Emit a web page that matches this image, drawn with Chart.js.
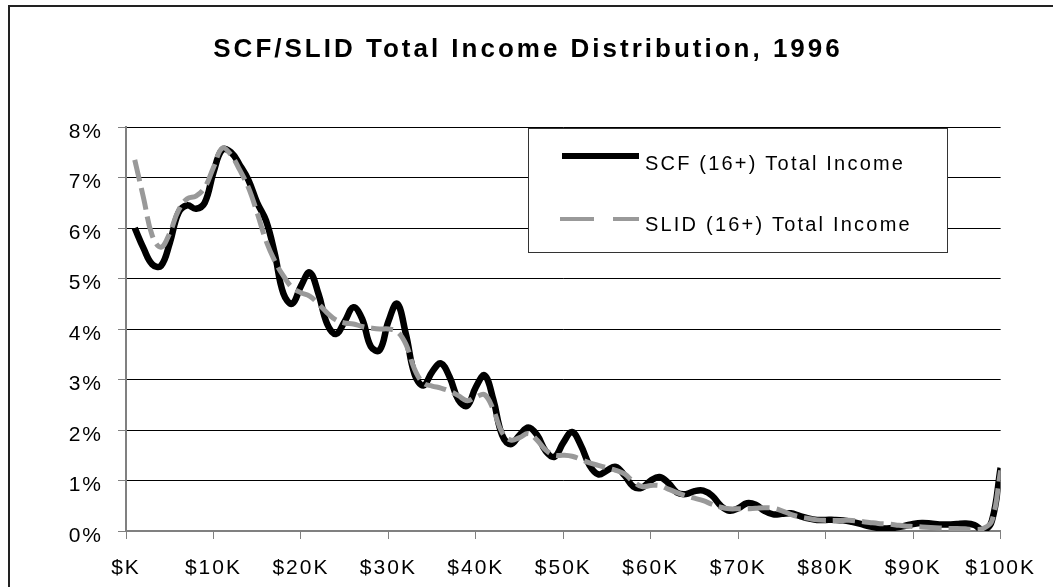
<!DOCTYPE html>
<html>
<head>
<meta charset="utf-8">
<script src="https://cdn.jsdelivr.net/npm/chart.js@4/dist/chart.umd.min.js"></script>
<style>
  html, body { margin: 0; padding: 0; background: #fff; }
  canvas { display: block; }
</style>
</head>
<body>
<canvas id="incomeChart" width="1053" height="587"></canvas>
<script>
'use strict';

// income bins, in $K
const incomeK = [
  1, 2, 3, 4, 5, 6, 7, 8, 9, 10,
  11, 12, 13, 14, 15, 16, 17, 18, 19, 20,
  21, 22, 23, 24, 25, 26, 27, 28, 29, 30,
  31, 32, 33, 34, 35, 36, 37, 38, 39, 40,
  41, 42, 43, 44, 45, 46, 47, 48, 49, 50,
  51, 52, 53, 54, 55, 56, 57, 58, 59, 60,
  61, 62, 63, 64, 65, 66, 67, 68, 69, 70,
  71, 72, 73, 74, 75, 76, 77, 78, 79, 80,
  81, 82, 83, 84, 85, 86, 87, 88, 89, 90,
  91, 92, 93, 94, 95, 96, 97, 98, 99, 100
];

// share of people in each bin, percent
const scfShare = [
  6.0, 5.6, 5.28, 5.25, 5.7, 6.3, 6.45, 6.38, 6.5, 7.1,
  7.55, 7.5, 7.25, 6.95, 6.5, 6.15, 5.5, 4.7, 4.5, 4.85,
  5.12, 4.7, 4.1, 3.9, 4.15, 4.43, 4.2, 3.65, 3.58, 4.15,
  4.5, 3.9, 3.1, 2.88, 3.15, 3.32, 3.05, 2.6, 2.48, 2.85,
  3.08, 2.6, 1.9, 1.72, 1.9, 2.05, 1.9, 1.58, 1.47, 1.75,
  1.96, 1.7, 1.3, 1.12, 1.2, 1.27, 1.1, 0.88, 0.86, 1.0,
  1.07, 0.95, 0.76, 0.73, 0.79, 0.8, 0.7, 0.5, 0.4, 0.45,
  0.55, 0.52, 0.4, 0.33, 0.34, 0.35, 0.3, 0.25, 0.22, 0.22,
  0.22, 0.21, 0.18, 0.14, 0.09, 0.06, 0.05, 0.07, 0.1, 0.14,
  0.16, 0.15, 0.13, 0.13, 0.14, 0.15, 0.12, 0.02, 0.2, 1.25
];

const slidShare = [
  7.35, 6.6, 5.85, 5.62, 5.9, 6.35, 6.58, 6.63, 6.8, 7.2,
  7.58, 7.45, 7.15, 6.8, 6.3, 5.75, 5.35, 5.05, 4.82, 4.72,
  4.65, 4.5, 4.32, 4.18, 4.12, 4.1, 4.05, 4.02, 4.0, 4.0,
  3.95, 3.7, 3.2, 2.93, 2.87, 2.83, 2.77, 2.68, 2.58, 2.65,
  2.7, 2.4, 1.95, 1.8, 1.85, 1.93, 1.8, 1.6, 1.5, 1.5,
  1.48, 1.42, 1.35, 1.3, 1.25, 1.2, 1.13, 0.98, 0.88, 0.9,
  0.9, 0.83, 0.76, 0.7, 0.65, 0.6, 0.53, 0.47, 0.44, 0.44,
  0.44, 0.45, 0.46, 0.45, 0.4, 0.33, 0.28, 0.25, 0.22, 0.21,
  0.21, 0.21, 0.21, 0.19, 0.17, 0.15, 0.14, 0.12, 0.1, 0.09,
  0.08, 0.07, 0.06, 0.05, 0.05, 0.04, 0.03, 0.05, 0.2, 1.2
];

const xTickLabels = ['$K', '$10K', '$20K', '$30K', '$40K', '$50K', '$60K', '$70K', '$80K', '$90K', '$100K'];
const yTickLabels = ['0%', '1%', '2%', '3%', '4%', '5%', '6%', '7%', '8%'];

const seriesNames = ['SCF (16+) Total Income', 'SLID (16+) Total Income'];
const chartTitle = 'SCF/SLID Total Income Distribution, 1996';

const FONT = '"Liberation Sans", Arial, sans-serif';
const SPACING = '2px';

const toPoints = (vals) => incomeK.map((x, i) => ({ x: x, y: vals[i] }));

// frame, title and legend box like the original sheet
const decor = {
  id: 'decor',
  beforeLayout(chart) {
    chart.ctx.letterSpacing = SPACING;
  },
  beforeDraw(chart) {
    const ctx = chart.ctx;
    ctx.save();
    ctx.fillStyle = '#fff';
    ctx.fillRect(0, 0, chart.width, chart.height);
    ctx.restore();
    ctx.letterSpacing = SPACING;
  },
  afterDraw(chart) {
    const ctx = chart.ctx;
    ctx.save();

    // outer frame
    ctx.strokeStyle = '#222';
    ctx.lineWidth = 2;
    ctx.strokeRect(9, 6, 1200, 1000);

    // title
    ctx.letterSpacing = '3px';
    ctx.fillStyle = '#000';
    ctx.font = 'bold 26px ' + FONT;
    ctx.textAlign = 'center';
    ctx.textBaseline = 'middle';
    ctx.fillText(chartTitle, 528, 50);

    // legend
    ctx.letterSpacing = '2.2px';
    ctx.fillStyle = '#fff';
    ctx.fillRect(528, 128, 419, 124);
    ctx.strokeStyle = '#333';
    ctx.lineWidth = 1;
    ctx.strokeRect(528.5, 128.5, 419, 124);

    ctx.lineWidth = 6;
    ctx.strokeStyle = '#000';
    ctx.beginPath();
    ctx.moveTo(562, 156);
    ctx.lineTo(639, 156);
    ctx.stroke();

    ctx.lineWidth = 4;
    ctx.strokeStyle = '#999';
    ctx.setLineDash([34, 19]);
    ctx.beginPath();
    ctx.moveTo(560, 219);
    ctx.lineTo(639, 219);
    ctx.stroke();
    ctx.setLineDash([]);

    ctx.fillStyle = '#000';
    ctx.font = '20px ' + FONT;
    ctx.textAlign = 'left';
    ctx.textBaseline = 'middle';
    ctx.fillText(seriesNames[0], 645, 164);
    ctx.fillText(seriesNames[1], 645, 225);

    ctx.restore();
  }
};

const ctx = document.getElementById('incomeChart').getContext('2d');

const myChart = new Chart(ctx, {
  type: 'line',
  data: {
    datasets: [
      {
        label: seriesNames[0],
        data: toPoints(scfShare),
        borderColor: '#000',
        borderWidth: 6.5,
        pointRadius: 0,
        tension: 0.4,
        fill: false,
        order: 1,
      },
      {
        label: seriesNames[1],
        data: toPoints(slidShare),
        borderColor: '#999',
        borderWidth: 5,
        borderDash: [22, 7],
        pointRadius: 0,
        tension: 0.4,
        fill: false,
        order: 0,
      },
    ],
  },
  options: {
    responsive: false,
    animation: false,
    devicePixelRatio: 1,
    layout: {
      padding: { top: 127, left: 0, right: 49, bottom: 0 },
    },
    plugins: {
      legend: { display: false },
      title: { display: false },
      tooltip: { enabled: false },
    },
    scales: {
      x: {
        type: 'linear',
        min: 0,
        max: 100,
        afterFit: (scale) => { scale.height = 56; },
        ticks: {
          stepSize: 10,
          autoSkip: false,
          maxRotation: 0,
          padding: 17,
          color: '#000',
          font: { family: FONT, size: 21 },
          callback: (v) => xTickLabels[Math.round(v / 10)],
        },
        grid: {
          drawOnChartArea: false,
          tickLength: 8,
          tickColor: '#808080',
          lineWidth: 1,
        },
        border: { color: '#808080', width: 2 },
      },
      y: {
        min: 0,
        max: 8,
        afterFit: (scale) => { scale.width = 126; },
        ticks: {
          stepSize: 1,
          padding: 15,
          labelOffset: 5,
          color: '#000',
          font: { family: FONT, size: 21 },
          callback: (v) => yTickLabels[Math.round(v)],
        },
        grid: {
          color: '#000',
          lineWidth: 1,
          tickLength: 8,
          tickColor: '#808080',
        },
        border: { color: '#808080', width: 2 },
      },
    },
  },
  plugins: [decor],
});
</script>
</body>
</html>
